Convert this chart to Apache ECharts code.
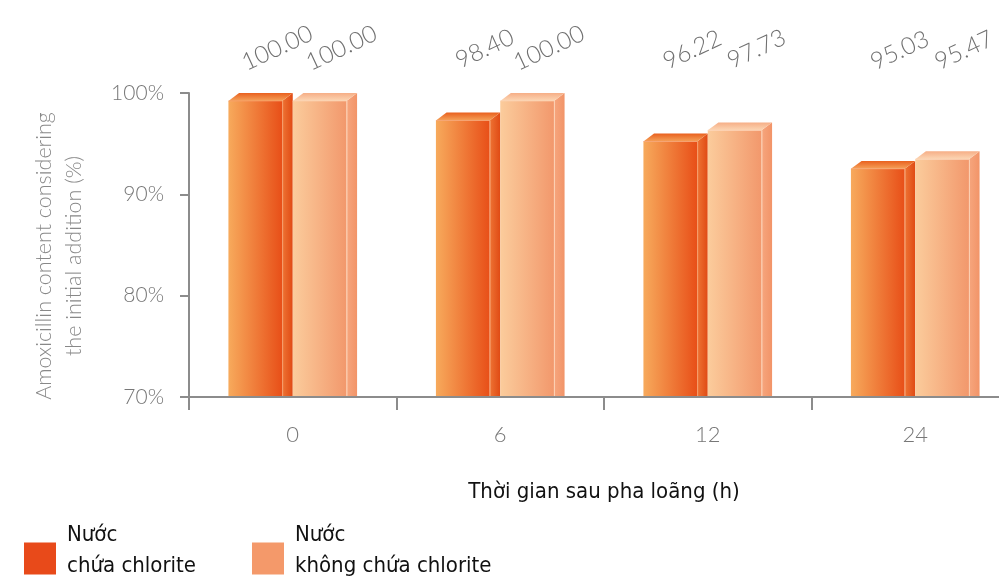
<!DOCTYPE html>
<html>
<head>
<meta charset="utf-8">
<script src="https://cdn.jsdelivr.net/npm/echarts@6/dist/echarts.min.js"></script>
<style>html,body{margin:0;padding:0;background:#fff}#chart{width:999px;height:579px}</style>
</head>
<body>
<div id="chart"></div>
<script>
// Categories (hours after dilution)
const categories = ['0', '6', '12', '24'];
// Bar heights as drawn in the picture (%)
const withChlorite = [100.0, 98.07, 96.0, 93.3];
const withoutChlorite = [100.0, 100.0, 97.1, 94.25];
// Value labels as printed above the bars
const withChloriteLabels = ['100.00', '98.40', '96.22', '95.03'];
const withoutChloriteLabels = ['100.00', '100.00', '97.73', '95.47'];
// Y axis ticks
const yMin = 70, yMax = 100, yStep = 10;

const seriesNames = ['Nước\nchứa chlorite', 'Nước\nkhông chứa chlorite'];

const palettes = [
  { front: ['#F7AA5C', '#E84F18'], top: ['#F5A25A', '#E9601E'], side: ['#EE7434', '#E04A14'], edge: '#F6A070', legend: '#E84A1A' },
  { front: ['#FBCC9C', '#F2986C'], top: ['#FCD6B4', '#F6AE86'], side: ['#F6A67E', '#F29468'], edge: '#FCD2B4', legend: '#F4996A' }
];

const labelFont = '300 24px Lato, "Open Sans", sans-serif';

function makeRender(sIdx, values, labels) {
  const pal = palettes[sIdx];
  return function (params, api) {
    const idx = api.value(0);
    const v = api.value(1);
    const top = api.coord([idx, v]);
    const base = api.coord([idx, yMin]);
    const ref = api.coord([idx, yMax]);
    const band = api.size([1, 0])[0];
    const pitch = band * 0.31;
    const front = pitch * 0.835;
    const dx = pitch - front;
    const dy = dx * 0.75;
    const x0 = top[0] - pitch + sIdx * pitch;
    const yt = top[1];
    const yb = base[1];
    const lg = (c) => ({ type: 'linear', x: 0, y: 0, x2: 1, y2: 0, colorStops: [{ offset: 0, color: c[0] }, { offset: 1, color: c[1] }] });
    const lgv = (c) => ({ type: 'linear', x: 0, y: 1, x2: 0, y2: 0, colorStops: [{ offset: 0, color: c[0] }, { offset: 1, color: c[1] }] });
    const labelVal = parseFloat(labels[params.dataIndex]);
    const lx = x0 + front / 2 + 22;
    const ly = ref[1] - 45 + (yMax - labelVal) * 0.5;
    return {
      type: 'group',
      children: [
        { type: 'rect', shape: { x: x0, y: yt + dy, width: front, height: yb - yt - dy }, style: { fill: lg(pal.front) } },
        { type: 'polygon', shape: { points: [[x0 + front, yt + dy], [x0 + front + dx, yt], [x0 + front + dx, yb], [x0 + front, yb]] }, style: { fill: lg(pal.side) } },
        { type: 'line', shape: { x1: x0 + front + 0.5, y1: yt + dy, x2: x0 + front + 0.5, y2: yb }, style: { stroke: pal.edge, lineWidth: 1 } },
        { type: 'polygon', shape: { points: [[x0, yt + dy], [x0 + dx, yt], [x0 + front + dx, yt], [x0 + front, yt + dy]] }, style: { fill: lgv(pal.top) } },
        { type: 'line', shape: { x1: x0, y1: yt + dy, x2: x0 + front, y2: yt + dy }, style: { stroke: pal.edge, lineWidth: 1, opacity: 0.7 } },
        {
          type: 'text', x: lx, y: ly, rotation: 25 * Math.PI / 180,
          style: { text: labels[params.dataIndex], x: 0, y: 0, fill: '#707070', font: labelFont, align: 'center', verticalAlign: 'middle', textAlign: 'center', textVerticalAlign: 'middle' }
        }
      ]
    };
  };
}

const chart = echarts.init(document.getElementById('chart'), null, { renderer: 'canvas' });

const narrow = '"Liberation Sans Narrow", "DejaVu Sans Condensed", "Noto Sans", sans-serif';

chart.setOption({
  animation: false,
  grid: { left: 189, top: 93, width: 830, height: 304, containLabel: false, outerBoundsMode: 'none' },
  legend: {
    left: 24, top: 524, padding: 0,
    itemWidth: 32, itemHeight: 32, itemGap: 56,
    icon: 'rect',
    data: seriesNames.map((n, i) => ({ name: n, itemStyle: { color: palettes[i].legend } })),
    formatter: (name) => name.split('\n').map((s) => '{t|' + s + '}').join('\n') + '\n{s| }',
    textStyle: {
      fontFamily: narrow, fontSize: 22, color: '#111',
      rich: {
        t: { fontFamily: narrow, fontSize: 22, lineHeight: 31, color: '#111', padding: [0, 0, 0, 6] },
        s: { fontSize: 8, lineHeight: 16 }
      }
    },
    selectedMode: false
  },
  xAxis: {
    type: 'category',
    data: categories,
    z: 10,
    name: 'Thời gian sau pha loãng (h)',
    nameLocation: 'middle',
    nameGap: 84,
    nameTextStyle: { fontFamily: narrow, fontSize: 22, color: '#111' },
    axisLine: { lineStyle: { color: '#8c8c8c', width: 2 } },
    axisTick: { show: true, length: 13, lineStyle: { color: '#8c8c8c', width: 2 } },
    axisLabel: { margin: 27, fontFamily: 'Lato, "Open Sans", sans-serif', fontWeight: 300, fontSize: 22, color: '#777' }
  },
  yAxis: {
    type: 'value',
    min: yMin, max: yMax, interval: yStep,
    z: 10,
    name: 'Amoxicillin content considering\nthe initial addition (%)',
    nameLocation: 'middle',
    nameGap: 100,
    nameTextStyle: { fontFamily: 'Lato, "Open Sans", sans-serif', fontWeight: 300, fontSize: 21.5, lineHeight: 30, color: '#888', padding: [0, 22, 0, 0] },
    axisLine: { show: true, lineStyle: { color: '#8c8c8c', width: 2 } },
    axisTick: { show: true, length: 9, lineStyle: { color: '#8c8c8c', width: 2 } },
    splitLine: { show: false },
    axisLabel: { margin: 25, formatter: '{value}%', fontFamily: 'Lato, "Open Sans", sans-serif', fontWeight: 300, fontSize: 21, color: '#777' }
  },
  series: [
    {
      name: seriesNames[0], type: 'custom', encode: { x: 0, y: 1 },
      itemStyle: { color: palettes[0].legend },
      data: categories.map((c, i) => [i, withChlorite[i]]),
      renderItem: makeRender(0, withChlorite, withChloriteLabels)
    },
    {
      name: seriesNames[1], type: 'custom', encode: { x: 0, y: 1 },
      itemStyle: { color: palettes[1].legend },
      data: categories.map((c, i) => [i, withoutChlorite[i]]),
      renderItem: makeRender(1, withoutChlorite, withoutChloriteLabels)
    }
  ]
});
</script>
</body>
</html>
